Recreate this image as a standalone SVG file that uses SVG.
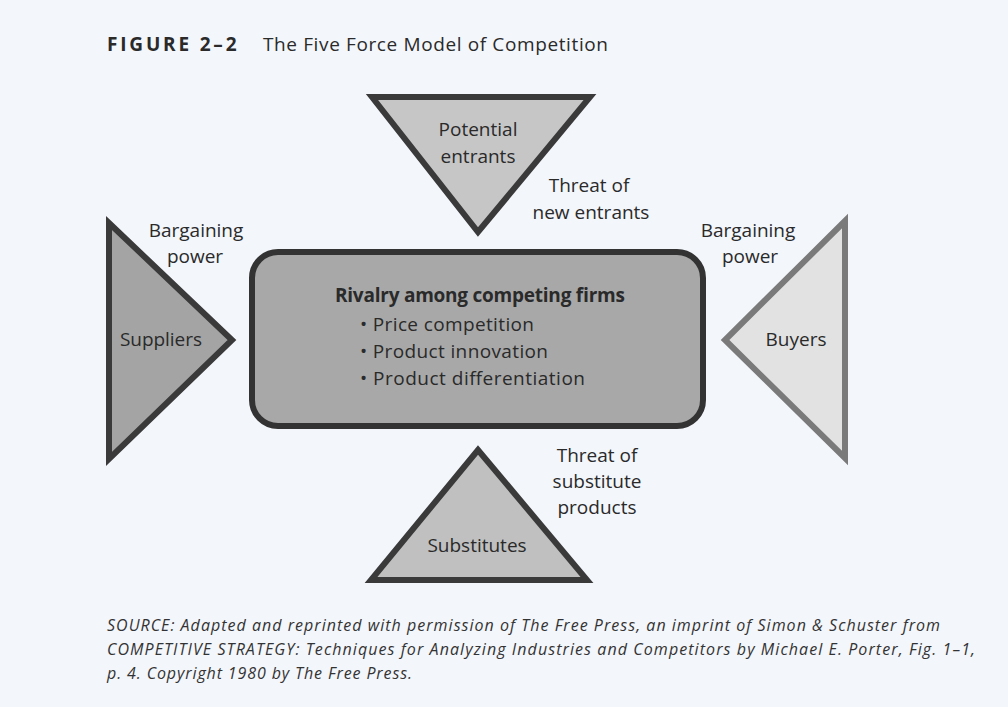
<svg xmlns="http://www.w3.org/2000/svg" width="1008" height="707" viewBox="0 0 1008 707">
<style>
text{font-family:"Open Sans","Liberation Sans",sans-serif;fill:#2a2a2a;font-size:19px}
.c{text-anchor:middle}
.src{font-style:italic;font-size:16px;fill:#333}
.tri{stroke-linejoin:miter;stroke-width:6}
</style>
<rect width="1008" height="707" fill="#f3f6fb"/>
<g id="title">
<text x="107" y="51" font-size="19" font-weight="bold" letter-spacing="1.5" textLength="131">FIGURE 2–2</text>
<text x="263" y="51" font-size="19.5" textLength="345">The Five Force Model of Competition</text>
</g>
<g id="potential-entrants">
<polygon class="tri" points="372,97 590,97 478,232" fill="#c6c6c6" stroke="#3a3a3a"/>
<text class="c" x="478" y="136">Potential</text>
<text class="c" x="478" y="163">entrants</text>
</g>
<g id="suppliers">
<polygon class="tri" points="109,223 232,340 109,459" fill="#a4a4a4" stroke="#3a3a3a"/>
<text x="120" y="346" textLength="82">Suppliers</text>
</g>
<g id="buyers">
<polygon class="tri" points="845,221 725,340 845,458" fill="#e2e2e2" stroke="#7a7a7a" stroke-width="4"/>
<text class="c" x="796" y="346">Buyers</text>
</g>
<g id="substitutes">
<polygon class="tri" points="478,450 587,580 371,580" fill="#c0c0c0" stroke="#3a3a3a"/>
<text class="c" x="477" y="552">Substitutes</text>
</g>
<g id="rivalry">
<rect x="252" y="252" width="451" height="174" rx="26" fill="#a8a8a8" stroke="#333" stroke-width="6"/>
<text x="335" y="302" font-size="18" font-weight="bold" textLength="290">Rivalry among competing firms</text>
<text x="360" y="331" textLength="174">• Price competition</text>
<text x="360" y="358" textLength="188">• Product innovation</text>
<text x="360" y="385" textLength="225">• Product differentiation</text>
</g>
<g id="connectors"></g>
<g id="labels">
<text class="c" x="589" y="192">Threat of</text>
<text class="c" x="591" y="219">new entrants</text>
<text class="c" x="196" y="237">Bargaining</text>
<text class="c" x="195" y="263">power</text>
<text class="c" x="748" y="237">Bargaining</text>
<text class="c" x="750" y="263">power</text>
<text class="c" x="597" y="462">Threat of</text>
<text class="c" x="597" y="488">substitute</text>
<text class="c" x="597" y="514">products</text>
</g>
<g id="source">
<text class="src" x="107" y="631" textLength="833">SOURCE: Adapted and reprinted with permission of The Free Press, an imprint of Simon &amp; Schuster from</text>
<text class="src" x="107" y="655" textLength="868">COMPETITIVE STRATEGY: Techniques for Analyzing Industries and Competitors by Michael E. Porter, Fig. 1–1,</text>
<text class="src" x="107" y="679" textLength="305">p. 4. Copyright 1980 by The Free Press.</text>
</g>
</svg>
